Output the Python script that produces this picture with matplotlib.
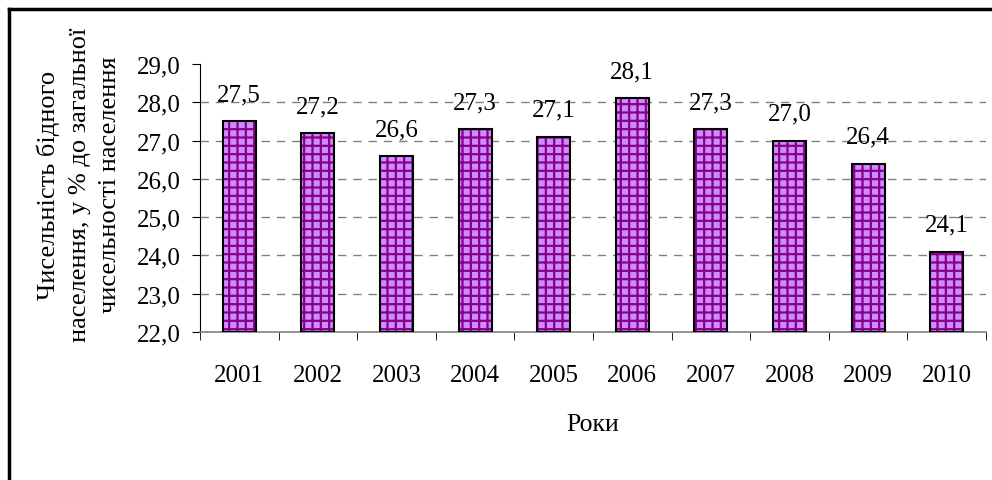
import matplotlib
matplotlib.use('Agg')
import matplotlib.pyplot as plt
from matplotlib.lines import Line2D
import numpy as np

years = ['2001', '2002', '2003', '2004', '2005', '2006', '2007', '2008', '2009', '2010']
poor_share = [27.5, 27.2, 26.6, 27.3, 27.1, 28.1, 27.3, 27.0, 26.4, 24.1]
y_ticks = [22.0, 23.0, 24.0, 25.0, 26.0, 27.0, 28.0, 29.0]

plt.rcParams['font.family'] = ['Liberation Serif', 'DejaVu Serif']
plt.rcParams['hatch.linewidth'] = 1.6

fs = 18

fig = plt.figure(figsize=(9.92, 4.81), dpi=100)
ax = fig.add_axes([200/992, 1 - 333/481, 786/992, (333 - 65)/481])

x = np.arange(len(years))
# fill + purple grid hatch, then black outline on top
ax.bar(x, [v - 22 for v in poor_share], bottom=22, width=0.42, color='#cc8cff',
       edgecolor='#880088', hatch='++', linewidth=0, zorder=2)
ax.bar(x, [v - 22 for v in poor_share], bottom=22, width=0.42, fill=False,
       edgecolor='black', linewidth=1.5, zorder=3)

for xi, v in zip(x, poor_share):
    ax.annotate(f'{v:.1f}'.replace('.', ','), (xi, v), xytext=(0, 15),
                textcoords='offset points', ha='center', va='baseline', fontsize=fs)

ax.set_xlim(-0.5, len(years) - 0.5)
ax.set_ylim(22, 29)
ax.set_yticks(y_ticks)
ax.set_yticklabels([f'{t:.1f}'.replace('.', ',') for t in y_ticks], fontsize=fs)
ax.set_xticks(x)
ax.set_xticklabels(years, fontsize=fs)
ax.set_xticks(np.arange(-0.5, len(years)), minor=True)
ax.tick_params(axis='x', which='major', length=0, pad=23)
ax.tick_params(axis='x', which='minor', length=6, direction='out', color='black')
ax.tick_params(axis='y', length=6, pad=8, color='black')

for t in y_ticks[1:-1]:
    ax.axhline(t, color='#808080', linestyle=(0, (6, 5)), linewidth=1, zorder=1)

ax.spines['top'].set_visible(False)
ax.spines['right'].set_visible(False)
ax.spines['left'].set_color('black')
ax.spines['bottom'].set_color('#808080')
ax.spines['bottom'].set_linewidth(1.2)

fig.text(593/992, 1 - 425/481, 'Роки', ha='center', va='center', fontsize=18.5)
fig.text(79/992, 1 - 185/481,
         'Чисельність бідного\nнаселення, у % до загальної\nчисельності населення',
         ha='center', va='center', rotation=90, fontsize=19, multialignment='center',
         linespacing=1.5)

# outer frame (only top and left edges visible)
fig.add_artist(Line2D([9/992, 9/992], [0, 1 - 10/481], color='black', linewidth=2.5,
                      transform=fig.transFigure))
fig.add_artist(Line2D([9/992, 1], [1 - 10/481, 1 - 10/481], color='black', linewidth=2.5,
                      transform=fig.transFigure))

fig.savefig('out.png', dpi=100)
